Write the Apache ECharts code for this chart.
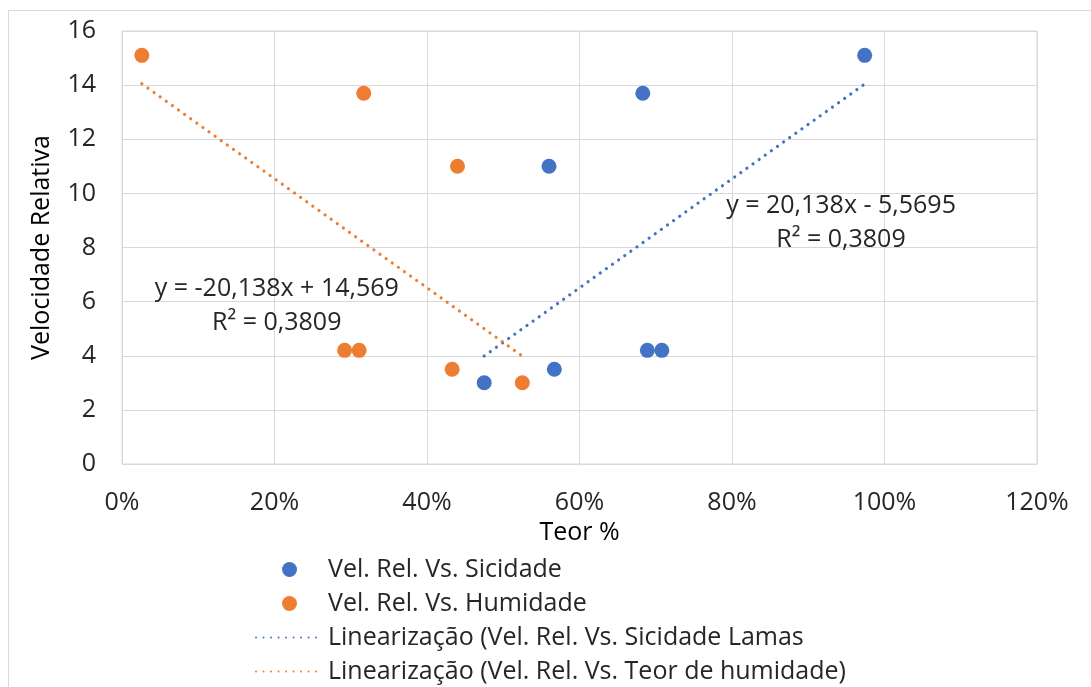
<!DOCTYPE html>
<html>
<head>
<meta charset="utf-8">
<script src="https://cdn.jsdelivr.net/npm/echarts@6/dist/echarts.min.js"></script>
<style>
  html, body { margin: 0; padding: 0; background: #fff; }
  #chart { width: 1091px; height: 687px; }
</style>
</head>
<body>
<div id="chart"></div>
<script>
// teor (fraction) and velocidade relativa
var sicidadeX = [0.475, 0.567, 0.560, 0.683, 0.689, 0.708, 0.974];
var sicidadeY = [3.0, 3.5, 11.0, 13.7, 4.2, 4.2, 15.1];
var humidadeX = [0.026, 0.317, 0.440, 0.292, 0.311, 0.433, 0.525];
var humidadeY = [15.1, 13.7, 11.0, 4.2, 4.2, 3.5, 3.0];

// trendline end points (x, y) as drawn
var trendSicidade = [[0.475, 3.99], [0.974, 14.04]];
var trendHumidade = [[0.026, 14.05], [0.525, 3.99]];

var seriesNames = [
  "Vel. Rel. Vs. Sicidade",
  "Vel. Rel. Vs. Humidade",
  "Linearização (Vel. Rel. Vs. Sicidade Lamas",
  "Linearização (Vel. Rel. Vs. Teor de humidade)"
];
var eqSicidade = "y = 20,138x - 5,5695\nR² = 0,3809";
var eqHumidade = "y = -20,138x + 14,569\nR² = 0,3809";

var blue = "#4472C4";
var orange = "#ED7D31";
var font = "Open Sans";
var fs = 25;
var txt = "#262626";

function pairs(xs, ys) {
  var out = [];
  for (var i = 0; i < xs.length; i++) out.push([xs[i], ys[i]]);
  return out;
}

var chart = echarts.init(document.getElementById("chart"));

var clear = { color: "rgba(0,0,0,0)", borderColor: "rgba(0,0,0,0)" };

var option = {
  animation: false,
  textStyle: { fontFamily: font },
  graphic: [{
    type: "rect",
    shape: { x: 8.5, y: 10.5, width: 1200, height: 800 },
    style: { fill: "none", stroke: "#d9d9d9", lineWidth: 1 },
    silent: true
  }],
  grid: {
    left: 122, right: 54, top: 31, bottom: 223,
    show: true, borderColor: "#d9d9d9", borderWidth: 1
  },
  xAxis: {
    type: "value",
    min: 0, max: 1.2, interval: 0.2,
    name: "Teor %",
    nameLocation: "middle",
    nameGap: 56,
    nameTextStyle: { fontSize: fs, color: "#000", fontFamily: font },
    axisLine: { show: false },
    axisTick: { show: false },
    splitLine: { lineStyle: { color: "#d9d9d9" } },
    axisLabel: {
      fontSize: fs, color: txt, margin: 26,
      formatter: function (v) { return Math.round(v * 100) + "%"; }
    }
  },
  yAxis: {
    type: "value",
    min: 0, max: 16, interval: 2,
    name: "Velocidade Relativa",
    nameLocation: "middle",
    nameGap: 68,
    nameTextStyle: { fontSize: fs, color: "#000", fontFamily: font },
    axisLine: { show: false },
    axisTick: { show: false },
    splitLine: { lineStyle: { color: "#d9d9d9" } },
    axisLabel: { fontSize: fs, color: txt, margin: 26 }
  },
  legend: {
    orient: "vertical",
    left: 255,
    top: 557,
    padding: 0,
    itemWidth: 67,
    itemHeight: 15,
    itemGap: 9,
    textStyle: { fontSize: fs, color: txt },
    data: [
      { name: seriesNames[0] },
      { name: seriesNames[1] },
      { name: seriesNames[2], itemStyle: clear },
      { name: seriesNames[3], itemStyle: clear }
    ]
  },
  series: [
    {
      name: seriesNames[0],
      type: "scatter",
      symbolSize: 15,
      itemStyle: { color: blue, opacity: 1 },
      data: pairs(sicidadeX, sicidadeY)
    },
    {
      name: seriesNames[1],
      type: "scatter",
      symbolSize: 15,
      itemStyle: { color: orange, opacity: 1 },
      data: pairs(humidadeX, humidadeY)
    },
    {
      name: seriesNames[2],
      type: "line",
      symbol: "none",
      lineStyle: { color: blue, type: [0.01, 7.5], cap: "round", width: 3.2 },
      itemStyle: { color: blue },
      data: trendSicidade,
      markPoint: {
        symbol: "circle",
        symbolSize: 1,
        itemStyle: clear,
        data: [{ coord: [0.943, 8.9] }],
        label: {
          show: true, position: "inside", formatter: eqSicidade,
          fontSize: fs, color: txt, lineHeight: 34, align: "center"
        }
      }
    },
    {
      name: seriesNames[3],
      type: "line",
      symbol: "none",
      lineStyle: { color: orange, type: [0.01, 7.5], cap: "round", width: 3.2 },
      itemStyle: { color: orange },
      data: trendHumidade,
      markPoint: {
        symbol: "circle",
        symbolSize: 1,
        itemStyle: clear,
        data: [{ coord: [0.203, 5.85] }],
        label: {
          show: true, position: "inside", formatter: eqHumidade,
          fontSize: fs, color: txt, lineHeight: 34, align: "center"
        }
      }
    }
  ]
};

chart.setOption(option);
</script>
</body>
</html>
